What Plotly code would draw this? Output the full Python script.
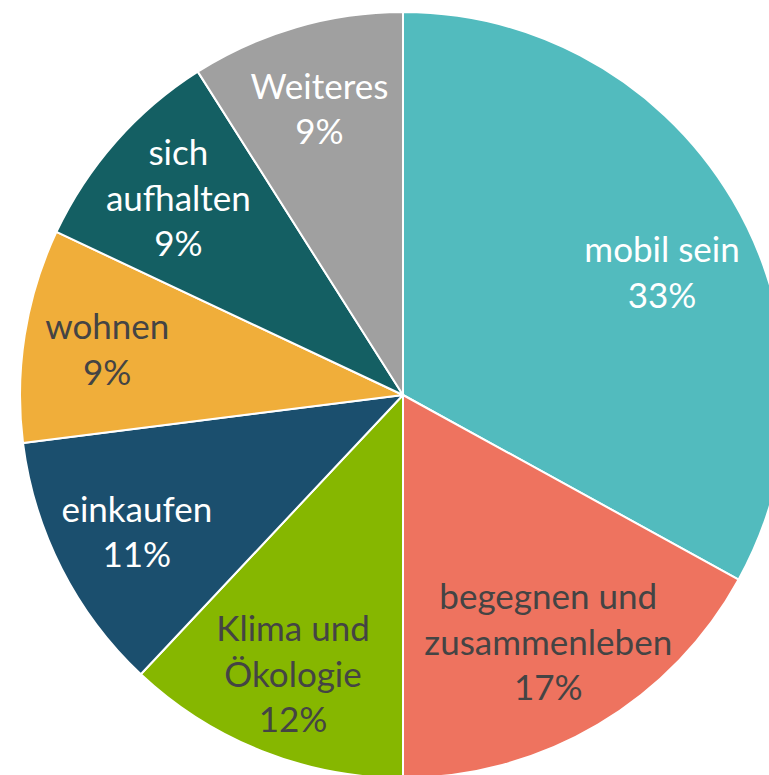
import plotly.graph_objects as go

categories = ["mobil sein", "begegnen und<br>zusammenleben", "Klima und<br>Ökologie",
              "einkaufen", "wohnen", "sich<br>aufhalten", "Weiteres"]
values = [33, 17, 12, 11, 9, 9, 9]
colors = ["#52BBBE", "#EE735F", "#86B700", "#1B4F6E", "#F0AE3A", "#145F63", "#A0A0A0"]
text_colors = ["#FFFFFF", "#444444", "#444444", "#FFFFFF", "#444444", "#FFFFFF", "#FFFFFF"]

font_family = "Lato, sans-serif"
font_size = 35

labels_text = [f"{c}<br>{v}%" for c, v in zip(categories, values)]

# slices
fig = go.Figure(go.Pie(
    labels=categories,
    values=values,
    sort=False,
    direction="clockwise",
    rotation=0,
    marker=dict(colors=colors, line=dict(color="#FFFFFF", width=2)),
    textinfo="none",
    hoverinfo="label+percent",
    showlegend=False,
))

# labels: same slices on transparent rings so the text sits further out
def label_ring(hole, keep, rotation=0):
    return go.Pie(
        labels=categories,
        values=values,
        sort=False,
        direction="clockwise",
        rotation=rotation,
        hole=hole,
        marker=dict(colors=["rgba(0,0,0,0)"] * len(values), line=dict(width=0)),
        text=[t if i in keep else "" for i, t in enumerate(labels_text)],
        textinfo="text",
        textposition="inside",
        insidetextorientation="horizontal",
        insidetextfont=dict(color=text_colors, size=font_size, family=font_family),
        hoverinfo="skip",
        showlegend=False,
    )

fig.add_trace(label_ring(0.5, {0}, rotation=5))
fig.add_trace(label_ring(0.49, {1}))
fig.add_trace(label_ring(0.56, {2, 3, 4, 5, 6}))

fig.update_layout(
    width=806, height=790,
    margin=dict(l=20, r=20, t=12, b=12),
    paper_bgcolor="#FFFFFF",
    uniformtext=dict(minsize=font_size, mode="show"),
)

fig.write_html(
    "out.html",
    config={"displayModeBar": False},
    post_script="document.body.style.margin='0';document.body.style.overflow='hidden';document.documentElement.style.overflow='hidden';",
)
